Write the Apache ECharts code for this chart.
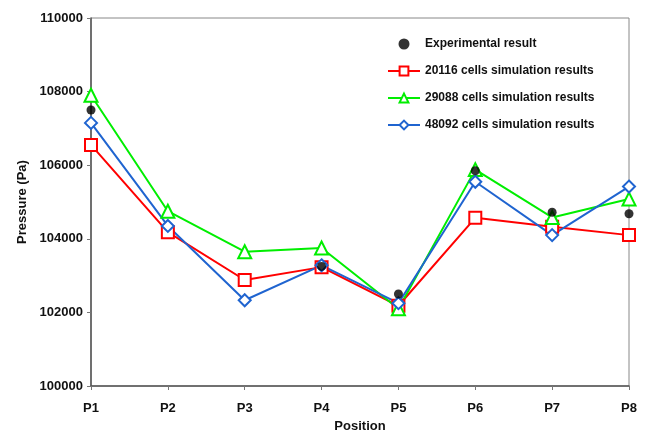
<!DOCTYPE html>
<html>
<head>
<meta charset="utf-8">
<script src="https://cdn.jsdelivr.net/npm/echarts@6/dist/echarts.min.js"></script>
<style>html,body{margin:0;padding:0;background:#fff;}#c{width:649px;height:432px;}</style>
</head>
<body>
<div id="c"></div>
<script>
var categories = ['P1','P2','P3','P4','P5','P6','P7','P8'];
var experimental = [107500, null, null, 103250, 102500, 105850, 104720, 104680];
var cells20116 = [106550, 104180, 102880, 103230, 102180, 104570, 104330, 104100];
var cells29088 = [107900, 104750, 103650, 103750, 102100, 105880, 104580, 105080];
var cells48092 = [107150, 104350, 102330, 103280, 102250, 105550, 104100, 105420];
var yTicks = [100000, 102000, 104000, 106000, 108000, 110000];

var font = 'Liberation Sans, Arial, sans-serif';
var chart = echarts.init(document.getElementById('c'), null, {renderer: 'canvas'});
function lineSeries(name, data, color, symbol, size) {
  return {
    name: name, type: 'line', data: data, symbol: symbol, symbolSize: size,
    showAllSymbol: true,
    lineStyle: {color: color, width: 2},
    itemStyle: {color: color, borderColor: color, borderWidth: 1.3},
    emphasis: {disabled: true}, animation: false
  };
}
chart.setOption({
  animation: false,
  backgroundColor: '#fff',
  grid: {left: 91, right: 20, top: 18, bottom: 46, containLabel: false, outerBoundsMode: 'none',
    show: true, borderColor: '#888', borderWidth: 1, backgroundColor: 'transparent'},
  legend: {
    orient: 'vertical', left: 382, top: 33, itemWidth: 32, itemHeight: 11, itemGap: 15,
    textStyle: {fontFamily: font, fontWeight: 'bold', fontSize: 12, color: '#111'},
    data: [
      {name: 'Experimental result', icon: 'circle', itemStyle: {color: '#000'}},
      {name: '20116 cells simulation results'},
      {name: '29088 cells simulation results'},
      {name: '48092 cells simulation results'}
    ]
  },
  xAxis: {
    type: 'category', data: categories, boundaryGap: false,
    name: 'Position', nameLocation: 'middle', nameGap: 34,
    nameTextStyle: {fontFamily: font, fontWeight: 'bold', fontSize: 13, color: '#111'},
    axisLine: {lineStyle: {color: '#555', width: 1.5}},
    axisTick: {show: true, length: 4, lineStyle: {color: '#777'}},
    axisLabel: {fontFamily: font, fontWeight: 'bold', fontSize: 13, color: '#111', margin: 16},
    splitLine: {show: false}
  },
  yAxis: {
    type: 'value', min: yTicks[0], max: yTicks[yTicks.length-1], interval: 2000,
    name: 'Pressure (Pa)', nameLocation: 'middle', nameGap: 57, nameRotate: 90,
    nameTextStyle: {fontFamily: font, fontWeight: 'bold', fontSize: 13, color: '#111'},
    axisLine: {show: true, lineStyle: {color: '#555', width: 1.5}},
    axisTick: {show: true, length: 4, lineStyle: {color: '#777'}},
    axisLabel: {fontFamily: font, fontWeight: 'bold', fontSize: 13, color: '#111', margin: 8,
      formatter: function (v) { return String(v); }},
    splitLine: {show: false}
  },
  series: [
    {name: 'Experimental result', type: 'scatter', data: experimental, symbol: 'circle', symbolSize: 9,
     itemStyle: {color: '#000'}, z: 5},
    lineSeries('20116 cells simulation results', cells20116, '#ff0000', 'emptyRect', 12),
    lineSeries('29088 cells simulation results', cells29088, '#00ee00', 'emptyTriangle', 13),
    lineSeries('48092 cells simulation results', cells48092, '#1f64d0', 'emptyDiamond', 12)
  ]
});
</script>
</body>
</html>
